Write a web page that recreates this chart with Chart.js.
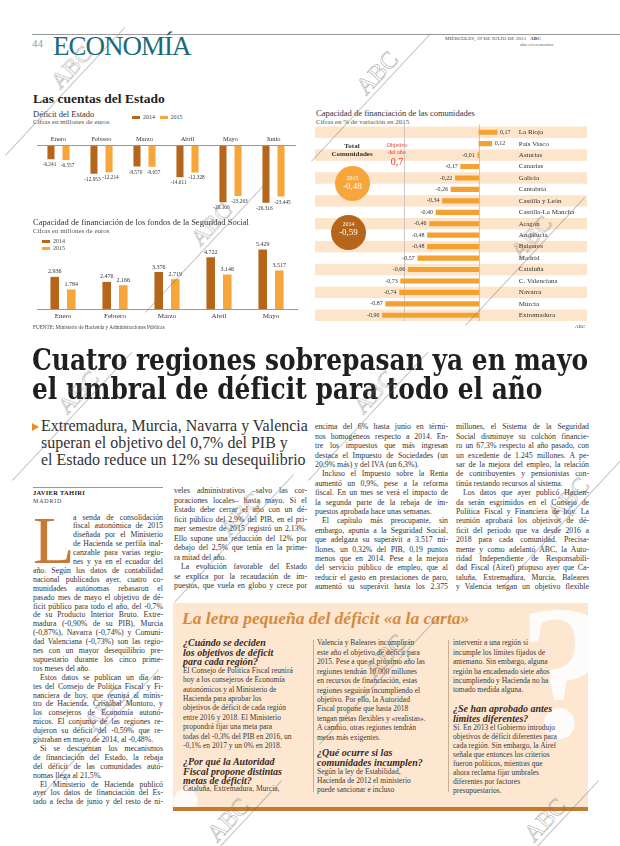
<!DOCTYPE html>
<html lang="es">
<head>
<meta charset="utf-8">
<title>Economía - Las cuentas del Estado</title>
<script src="https://cdn.jsdelivr.net/npm/chart.js@4.4.1/dist/chart.umd.min.js"></script>
<style>
html, body { margin: 0; padding: 0; background: #fff; }
body { width: 620px; height: 846px; position: relative; overflow: hidden;
       font-family: "Liberation Serif", serif; color: #2b2b2b; }
.abs { position: absolute; white-space: nowrap; }
canvas { position: absolute; }
.ln { position: absolute; white-space: nowrap; }
.cuerpo { font-size: 7.8px; color: #333; }
.resp { font-size: 7.5px; color: #3a3a3a; }
.preg { font-size: 10px; font-weight: bold; font-style: italic; color: #3b2a1e; }
.leyenda i { display: inline-block; width: 8px; height: 3px; vertical-align: middle; margin-right: 3px; }
.circulo { position: absolute; border-radius: 50%; color: #fff; text-align: center; }
.marca { position: absolute; transform-origin: 0 0; transform: rotate(-47deg); }
.marca b { position: absolute; left: 0; bottom: 0; font-size: 24px; font-weight: normal; color: transparent;
           -webkit-text-stroke: 0.6px rgba(110,110,110,0.55); line-height: 24px; }
.marca s { position: absolute; left: -85px; top: 0; width: 175px; height: 0; border-top: 1px solid rgba(110,110,110,0.45); }
</style>
</head>
<body>

<!-- cabecera -->
<div class="abs" style="left:32px;top:34px;width:588px;height:0;border-top:1px solid #9a9a9a;"></div>
<div class="abs" style="left:32px;top:37px;font-size:11px;color:#9a9a9a;">44</div>
<div class="abs" style="left:53px;top:31px;font-size:27px;letter-spacing:-1px;color:#1d6b79;">ECONOMÍA</div>
<div class="abs" style="left:445px;top:36px;font-size:5px;color:#444;letter-spacing:0.1px;">MIÉRCOLES, 29 DE JULIO DE 2015 &nbsp;&nbsp;<b>ABC</b></div>
<div class="abs" style="left:520px;top:42px;font-size:5px;color:#666;">abc.es/economia</div>

<!-- cuentas del Estado -->
<div class="abs" style="left:33px;top:91px;font-size:13.5px;font-weight:bold;color:#222;">Las cuentas del Estado</div>
<div class="abs" style="left:33px;top:109px;font-size:8.5px;color:#333;">Déficit del Estado</div>
<div class="abs" style="left:33px;top:118px;font-size:7px;color:#555;">Cifras en millones de euros</div>
<div class="abs leyenda" style="left:132px;top:114px;font-size:6px;color:#444;">
  <span><i style="background:#b5661a"></i>2014</span>&nbsp;&nbsp;&nbsp;<span><i style="background:#f6a63a"></i>2015</span>
</div>
<canvas id="deficit" width="270" height="90" style="left:32px;top:128px;"></canvas>

<div class="abs" style="left:33px;top:217px;font-size:8.5px;color:#333;">Capacidad de financiación de los fondos de la Seguridad Social</div>
<div class="abs" style="left:33px;top:227px;font-size:7px;color:#555;">Cifras en millones de euros</div>
<div class="abs leyenda" style="left:42px;top:238px;font-size:6px;color:#444;line-height:6.5px;">
  <div><i style="background:#b5661a"></i>2014</div><div><i style="background:#f6a63a"></i>2015</div>
</div>
<canvas id="seguridad" width="272" height="90" style="left:32px;top:236px;"></canvas>
<div class="abs" style="left:33px;top:324px;font-size:5.2px;color:#444;">FUENTE: Ministerio de Hacienda y Administraciones Públicas</div>

<!-- comunidades -->
<div class="abs" style="left:316px;top:108px;font-size:8.5px;color:#333;">Capacidad de financiación de las comunidades</div>
<div class="abs" style="left:316px;top:118px;font-size:7px;color:#555;">Cifras en % de variación en 2015</div>
<canvas id="comunidades" width="300" height="202" style="left:312px;top:122px;"></canvas>
<div class="abs" style="left:322px;top:142px;width:60px;text-align:center;font-size:7px;font-weight:bold;color:#333;line-height:8px;">Total<br>Comunidades</div>
<div class="abs" style="left:377px;top:142px;width:40px;text-align:center;font-size:6px;color:#e03a2c;line-height:6.5px;">Objetivo<br>del año</div>
<div class="abs" style="left:377px;top:156px;width:40px;text-align:center;font-size:10px;color:#e03a2c;">0,7</div>
<div class="circulo" style="left:335px;top:166px;width:35px;height:35px;background:#f6a63a;">
  <div style="font-size:6px;margin-top:9px;">2015</div><div style="font-size:9px;">-0,48</div>
</div>
<div class="circulo" style="left:331px;top:215px;width:35px;height:35px;background:#b5661a;">
  <div style="font-size:6px;margin-top:6px;">2014</div><div style="font-size:9px;">-0,59</div>
</div>
<div class="abs" style="left:575px;top:324px;font-size:5px;color:#444;">ABC</div>

<!-- titular -->
<div id="tit1" class="abs" style="left:32px;top:342px;font-size:30px;font-weight:bold;color:#1f1f1f;font-family:'DejaVu Serif',serif;transform-origin:0 0;">Cuatro regiones sobrepasan ya en mayo</div>
<div id="tit2" class="abs" style="left:32px;top:371px;font-size:30px;font-weight:bold;color:#1f1f1f;font-family:'DejaVu Serif',serif;transform-origin:0 0;">el umbral de déficit para todo el año</div>
<div class="abs" style="left:32px;top:423px;width:0;height:0;border-left:7px solid #f08a24;border-top:4px solid transparent;border-bottom:4px solid transparent;"></div>
<div id="sub" class="abs" style="left:41px;top:417px;font-size:16px;line-height:17px;color:#333;">Extremadura, Murcia, Navarra y Valencia<br>superan el objetivo del 0,7% del PIB y<br>el Estado reduce un 12% su desequilibrio</div>

<div class="abs" style="left:33px;top:487px;width:130px;border-top:1px solid #999;"></div>
<div class="abs" style="left:33px;top:489px;font-size:6.5px;font-weight:bold;color:#222;letter-spacing:0.3px;">JAVIER TAHIRI</div>
<div class="abs" style="left:33px;top:498px;font-size:6px;color:#444;letter-spacing:0.8px;">MADRID</div>
<div class="abs" style="left:33px;top:506px;font-size:68px;line-height:68px;color:#c77a35;">L</div>

<!-- recuadro -->
<div class="abs" style="left:173px;top:603px;width:415px;height:204px;background:#fde7d1;overflow:hidden;">
  <div class="abs" style="left:345px;top:-40px;font-size:190px;font-weight:bold;color:#fff;opacity:0.9;">?</div>
  <div class="abs" style="left:-30px;top:120px;font-size:150px;font-weight:bold;color:#fff;opacity:0.8;">¿</div>
</div>
<div class="abs" style="left:173px;top:807px;width:415px;height:4px;background:#c47a2f;"></div>
<div class="abs" style="left:182px;top:608px;font-size:17.5px;line-height:20px;font-weight:bold;font-style:italic;color:#d68a3f;">La letra pequeña del déficit «a la carta»</div>
<div class="abs" style="left:313px;top:640px;height:152px;border-left:1px solid #c8ad93;"></div>
<div class="abs" style="left:448px;top:640px;height:152px;border-left:1px solid #c8ad93;"></div>

<script>
var meses = ["Enero", "Febrero", "Marzo", "Abril", "Mayo", "Junio"];
var deficit2014 = [-6241, -12953, -9570, -14611, -26166, -26316];
var deficit2015 = [-6557, -12214, -9657, -12328, -23263, -23445];

var mesesSS = ["Enero", "Febrero", "Marzo", "Abril", "Mayo"];
var ss2014 = [2936, 2476, 3376, 4722, 5429];
var ss2015 = [1784, 2166, 2719, 3146, 3517];

var comunidades = ["La Rioja", "País Vasco", "Asturias", "Canarias", "Galicia", "Cantabria",
  "Castilla y León", "Castilla-La Mancha", "Aragón", "Andalucía", "Baleares", "Madrid",
  "Cataluña", "C. Valenciana", "Navarra", "Murcia", "Extremadura"];
var capacidad = [0.17, 0.12, -0.01, -0.17, -0.22, -0.26, -0.34, -0.40, -0.46, -0.48, -0.48,
  -0.57, -0.66, -0.73, -0.74, -0.87, -0.90];
var objetivo = -0.7;

var c2014 = "#b5661a";
var c2015 = "#f6a63a";
var fuente = '"Liberation Serif", serif';

function miles(v) {
  var s = String(Math.abs(v)).replace(/\B(?=(\d{3})+(?!\d))/g, ".");
  return v < 0 ? "-" + s : s;
}

// cifras encima o debajo de cada barra
var etiquetas = {
  id: "etiquetas",
  afterDatasetsDraw: function (chart, args, opts) {
    var ctx = chart.ctx;
    ctx.save();
    ctx.font = opts.size + "px " + fuente;
    ctx.fillStyle = "#333";
    ctx.textAlign = "center";
    chart.data.datasets.forEach(function (ds, i) {
      var dx = (i === 0 ? -1 : 1) * opts.shift;
      chart.getDatasetMeta(i).data.forEach(function (bar, j) {
        var v = ds.data[j];
        if (v < 0) {
          ctx.textBaseline = "top";
          ctx.fillText(miles(v), bar.x + dx, bar.y + opts.gap);
        } else {
          ctx.textBaseline = "bottom";
          ctx.fillText(miles(v), bar.x + dx, bar.y - opts.gap);
        }
      });
    });
    ctx.restore();
  }
};

new Chart(document.getElementById("deficit"), {
  type: "bar",
  data: {
    labels: meses,
    datasets: [
      { label: "2014", data: deficit2014, backgroundColor: c2014 },
      { label: "2015", data: deficit2015, backgroundColor: c2015 }
    ]
  },
  options: {
    responsive: false,
    animation: false,
    layout: { padding: { top: 4, left: 5, right: 7, bottom: 5 } },
    datasets: { bar: { categoryPercentage: 0.7, barPercentage: 0.47 } },
    plugins: { legend: { display: false }, tooltip: { enabled: false }, etiquetas: { size: 5.3, gap: 3, shift: 1.5 } },
    scales: {
      x: {
        position: "top",
        grid: { display: false, drawTicks: false },
        border: { display: true, color: "#9a9a9a" },
        ticks: { font: { family: fuente, size: 6.5 }, color: "#333", padding: 3 }
      },
      y: { display: false, min: -31100, max: 0 }
    }
  },
  plugins: [etiquetas]
});

new Chart(document.getElementById("seguridad"), {
  type: "bar",
  data: {
    labels: mesesSS,
    datasets: [
      { label: "2014", data: ss2014, backgroundColor: c2014 },
      { label: "2015", data: ss2015, backgroundColor: c2015 }
    ]
  },
  options: {
    responsive: false,
    animation: false,
    layout: { padding: { top: 4, left: 5, right: 7, bottom: 2.6 } },
    datasets: { bar: { categoryPercentage: 0.636, barPercentage: 0.52 } },
    plugins: { legend: { display: false }, tooltip: { enabled: false }, etiquetas: { size: 6, gap: 2, shift: 0 } },
    scales: {
      x: {
        grid: { display: false, drawTicks: false },
        border: { display: true, color: "#9a9a9a" },
        ticks: { font: { family: fuente, size: 7 }, color: "#333", padding: 3 }
      },
      y: { display: false, min: 0, max: 6300 }
    }
  },
  plugins: [etiquetas]
});

// franjas, líneas de referencia y rótulos del gráfico de comunidades
var franjas = {
  id: "franjas",
  beforeDatasetsDraw: function (chart) {
    var ctx = chart.ctx, a = chart.chartArea, x = chart.scales.x, y = chart.scales.y;
    var h = y.getPixelForValue(1) - y.getPixelForValue(0);
    ctx.save();
    ctx.fillStyle = "#fde5cb";
    for (var i = 0; i < comunidades.length; i += 2) {
      ctx.fillRect(a.left, y.getPixelForValue(i) - h / 2, a.right - a.left, h);
    }
    ctx.strokeStyle = "#bdbdbd";
    ctx.lineWidth = 0.8;
    [0, objetivo].forEach(function (v) {
      var px = Math.round(x.getPixelForValue(v)) + 0.5;
      ctx.beginPath();
      ctx.moveTo(px, a.top - 2);
      ctx.lineTo(px, a.bottom);
      ctx.stroke();
    });
    ctx.restore();
  },
  afterDatasetsDraw: function (chart) {
    var ctx = chart.ctx, x = chart.scales.x;
    var x0 = x.getPixelForValue(0);
    ctx.save();
    ctx.fillStyle = "#333";
    ctx.textBaseline = "middle";
    chart.getDatasetMeta(0).data.forEach(function (bar, i) {
      var v = capacidad[i];
      var txt = v.toFixed(2).replace(".", ",");
      ctx.font = "6px " + fuente;
      if (v < 0) {
        ctx.textAlign = "right";
        ctx.fillText(txt, bar.x - 3, bar.y);
      } else {
        ctx.textAlign = "left";
        ctx.fillText(txt, bar.x + 3, bar.y);
      }
      ctx.font = "7px " + fuente;
      ctx.textAlign = "left";
      ctx.fillText(comunidades[i], x0 + 40, bar.y);
    });
    ctx.restore();
  }
};

new Chart(document.getElementById("comunidades"), {
  type: "bar",
  data: {
    labels: comunidades,
    datasets: [{ label: "2015", data: capacidad, backgroundColor: "#f5a131", barThickness: 4.5 }]
  },
  options: {
    indexAxis: "y",
    responsive: false,
    animation: false,
    layout: { padding: { top: 4.5, left: 3, right: 25, bottom: 3 } },
    plugins: { legend: { display: false }, tooltip: { enabled: false } },
    scales: {
      x: { display: false, min: -1.53, max: 1.01 },
      y: { display: false }
    }
  },
  plugins: [franjas]
});

// titular y entradilla ajustados al ancho de la página
var t1 = document.getElementById("tit1"), t2 = document.getElementById("tit2");
var k = 556 / t1.getBoundingClientRect().width;
t1.style.transform = t2.style.transform = "scaleX(" + k + ")";
var sub = document.getElementById("sub");
var sw = sub.getBoundingClientRect().width;
sub.style.fontSize = (16 * 267 / sw) + "px";

// texto en columnas: ">" sangría, "|" fin de párrafo
function colocar(lineas, x0, y0, w, lh, cls, justificar) {
  lineas.forEach(function (s, i) {
    var ind = 0, just = justificar;
    if (s.charAt(0) === ">") { s = s.slice(1); ind = 7; }
    if (s.slice(-1) === "|") { s = s.slice(0, -1); just = false; }
    var d = document.createElement("div");
    d.className = "ln " + cls;
    d.textContent = s;
    d.style.left = (x0 + ind) + "px";
    d.style.top = (y0 + i * lh - lh / 2) + "px";
    d.style.lineHeight = lh + "px";
    document.body.appendChild(d);
    var nat = d.getBoundingClientRect().width;
    var meta = w - ind;
    var n = (s.match(/ /g) || []).length;
    if (n && (just || nat > meta)) d.style.wordSpacing = ((meta - nat) / n) + "px";
  });
}

colocar(["a senda de consolidación", "fiscal autonómica de 2015", "diseñada por el Ministerio",
  "de Hacienda se perfila inal-", "canzable para varias regio-", "nes y ya en el ecuador del"],
  73, 518, 90, 8.9, "cuerpo", true);
colocar(["año. Según los datos de contabilidad", "nacional publicados ayer, cuatro co-",
  "munidades autónomas rebasaron el", "pasado mes de mayo el objetivo de dé-",
  "ficit público para todo el año, del -0,7%", "de su Producto Interior Bruto. Extre-",
  "madura (-0,90% de su PIB), Murcia", "(-0,87%), Navarra (-0,74%) y Comuni-",
  "dad Valenciana (-0,73%) son las regio-", "nes con un mayor desequilibrio pre-",
  "supuestario durante los cinco prime-", "ros meses del año.|",
  ">Estos datos se publican un día an-", "tes del Consejo de Política Fiscal y Fi-",
  "nanciera de hoy, que reunirá al minis-", "tro de Hacienda, Cristóbal Montoro, y",
  "los consejeros de Economía autonó-", "micos. El conjunto de las regiones re-",
  "dujeron su déficit del -0,59% que re-", "gistraban en mayo de 2014, al -0,48%.|",
  ">Si se descuentan los mecanismos", "de financiación del Estado, la rebaja",
  "del déficit de las comunidades autó-", "nomas llega al 21,5%.|",
  ">El Ministerio de Hacienda publicó", "ayer los datos de financiación del Es-",
  "tado a fecha de junio y del resto de ni-"],
  33, 518 + 6 * 8.9, 130, 8.9, "cuerpo", true);
colocar(["veles administrativos –salvo las cor-", "poraciones locales– hasta mayo. Si el",
  "Estado debe cerrar el año con un dé-", "ficit público del 2,9% del PIB, en el pri-",
  "mer semestre de 2015 registró un 2,13%.", "Ello supone una reducción del 12% por",
  "debajo del 2,5% que tenía en la prime-", "ra mitad del año.|",
  ">La evolución favorable del Estado", "se explica por la recaudación de im-",
  "puestos, que vuela en globo y crece por"],
  174, 491, 133, 9.5, "cuerpo", true);
colocar(["encima del 6% hasta junio en térmi-", "nos homogéneos respecto a 2014. En-",
  "tre los impuestos que más ingresan", "destaca el Impuesto de Sociedades (un",
  "20,9% más) y del IVA (un 6,3%).|", ">Incluso el Impuesto sobre la Renta",
  "aumentó un 0,9%, pese a la reforma", "fiscal. En un mes se verá el impacto de",
  "la segunda parte de la rebaja de im-", "puestos aprobada hace unas semanas.|",
  ">El capítulo más preocupante, sin", "embargo, apunta a la Seguridad Social,",
  "que adelgaza su superávit a 3.517 mi-", "llones, un 0,32% del PIB, 0,19 puntos",
  "menos que en 2014. Pese a la mejora", "del servicio público de empleo, que al",
  "reducir el gasto en prestaciones de paro,", "aumentó su superávit hasta los 2.375"],
  315, 427, 133, 9.4, "cuerpo", true);
colocar(["millones, el Sistema de la Seguridad", "Social disminuye su colchón financie-",
  "ro un 67,3% respecto al año pasado, con", "un excedente de 1.245 millones. A pe-",
  "sar de la mejora del empleo, la relación", "de contribuyentes y pensionistas con-",
  "tinúa restando recursos al sistema.|", ">Los datos que ayer publicó Hacien-",
  "da serán esgrimidos en el Consejo de", "Política Fiscal y Financiera de hoy. La",
  "reunión aprobará los objetivos de dé-", "ficit del periodo que va desde 2016 a",
  "2018 para cada comunidad. Precisa-", "mente y como adelantó ABC, la Auto-",
  "ridad Independiente de Responsabili-", "dad Fiscal (Airef) propuso ayer que Ca-",
  "taluña, Extremadura, Murcia, Baleares", "y Valencia tengan un objetivo flexible"],
  456, 427, 133, 9.4, "cuerpo", true);

// recuadro
colocar(["¿Cuándo se deciden", "los objetivos de déficit", "para cada región?"], 183, 643, 125, 9.5, "preg", false);
colocar(["El Consejo de Política Fiscal reunirá", "hoy a los consejeros de Economía",
  "autonómicos y al Ministerio de", "Hacienda para aprobar los", "objetivos de déficit de cada región",
  "entre 2016 y 2018. El Ministerio", "propondrá fijar una meta para",
  "todas del -0,3% del PIB en 2016, un", "-0,1% en 2017 y un 0% en 2018."],
  183, 670.5, 125, 9.4, "resp", false);
colocar(["¿Por qué la Autoridad", "Fiscal propone distintas", "metas de déficit?"], 183, 762, 125, 9.3, "preg", false);
colocar(["Cataluña, Extremadura, Murcia,"], 183, 789, 125, 9.4, "resp", false);
colocar(["Valencia y Baleares incumplirán", "este año el objetivo de déficit para",
  "2015. Pese a que el próximo año las", "regiones tendrán 10.000 millones",
  "en recursos de financiación, estas", "regiones seguirán incumpliendo el",
  "objetivo. Por ello, la Autoridad", "Fiscal propone que hasta 2018",
  "tengan metas flexibles y «realistas».", "A cambio, otras regiones tendrán",
  "metas más exigentes."],
  317, 643, 126, 9.45, "resp", false);
colocar(["¿Qué ocurre si las", "comunidades incumplen?"], 317, 753, 126, 9.3, "preg", false);
colocar(["Según la ley de Estabilidad,", "Hacienda de 2012 el ministerio", "puede sancionar e incluso"],
  317, 771, 126, 9.0, "resp", false);
colocar(["intervenir a una región si", "incumple los límites fijados de", "antemano. Sin embargo, alguna",
  "región ha encadenado siete años", "incumpliendo y Hacienda no ha", "tomado medida alguna."],
  453, 643, 128, 9.4, "resp", false);
colocar(["¿Se han aprobado antes", "límites diferentes?"], 453, 709, 128, 9.3, "preg", false);
colocar(["Sí. En 2013 el Gobierno introdujo", "objetivos de déficit diferentes para",
  "cada región. Sin embargo, la Airef", "señala que entonces los criterios",
  "fueron políticos, mientras que", "ahora reclama fijar umbrales",
  "diferentes por factores", "presupuestarios."],
  453, 727, 128, 9.0, "resp", false);

// marcas de agua
[[63, 93], [369, 99], [203, 250], [523, 263], [70, 418], [366, 418],
 [232, 540], [560, 525], [97, 735], [377, 682], [220, 846], [537, 846]].forEach(function (p) {
  var m = document.createElement("div");
  m.className = "marca";
  m.style.left = p[0] + "px";
  m.style.top = p[1] + "px";
  m.innerHTML = "<s></s><b>ABC</b>";
  document.body.appendChild(m);
});
</script>
</body>
</html>
